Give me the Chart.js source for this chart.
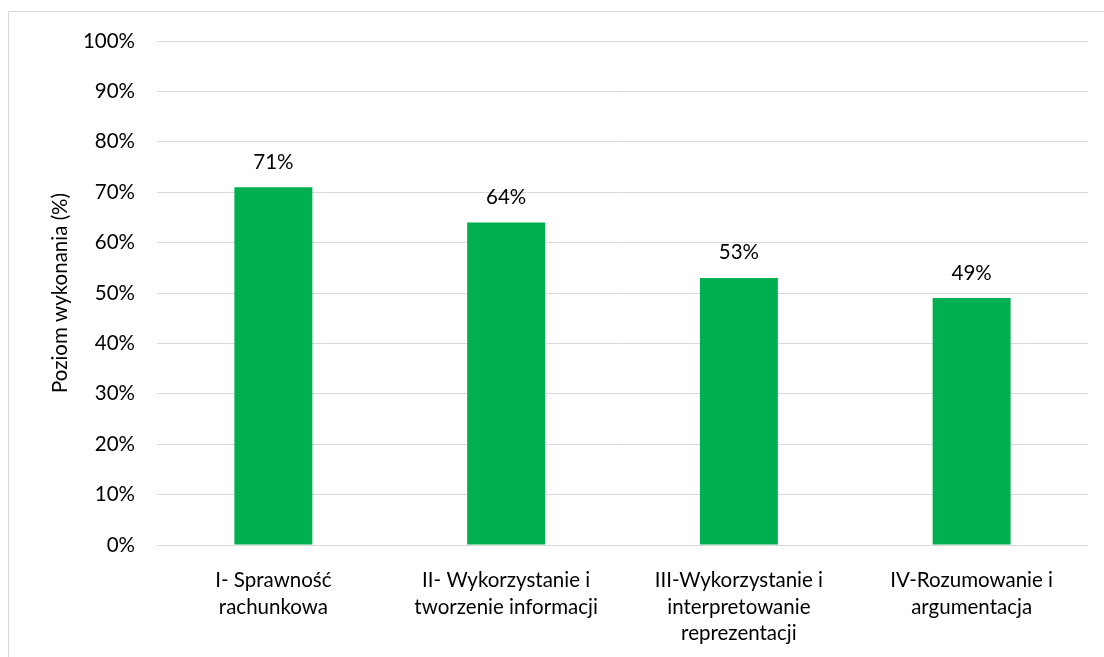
<!DOCTYPE html>
<html>
<head>
<meta charset="utf-8">
<script src="https://cdn.jsdelivr.net/npm/chart.js@4.4.1/dist/chart.umd.min.js"></script>
<style>
  html, body { margin: 0; padding: 0; background: #fff; overflow: hidden; }
  #frame { position: absolute; left: 8px; top: 11px; width: 1200px; height: 700px;
           border: 1px solid #d9d9d9; box-sizing: border-box; }
  #wrap { position: absolute; left: 0; top: 0; width: 1104px; height: 657px; }
</style>
</head>
<body>
<div id="frame"></div>
<div id="wrap"><canvas id="chart" width="1104" height="657"></canvas></div>
<script>
// Obszary umiejętności i poziom ich wykonania (%)
const categories = [
  ['I- Sprawność', 'rachunkowa'],
  ['II- Wykorzystanie i', 'tworzenie informacji'],
  ['III-Wykorzystanie i', 'interpretowanie', 'reprezentacji'],
  ['IV-Rozumowanie i', 'argumentacja']
];
const values = [71, 64, 53, 49];
const yTicks = [0, 10, 20, 30, 40, 50, 60, 70, 80, 90, 100];

const FONT = 'Lato, "Open Sans", sans-serif';
const FSIZE = 20.5;

// Etykiety wartości nad słupkami
const valueLabels = {
  id: 'valueLabels',
  afterDatasetsDraw(chart) {
    const ctx = chart.ctx;
    const meta = chart.getDatasetMeta(0);
    ctx.save();
    ctx.font = FSIZE + 'px ' + FONT;
    ctx.fillStyle = '#000';
    ctx.textAlign = 'center';
    ctx.textBaseline = 'middle';
    meta.data.forEach((bar, i) => {
      ctx.fillText(values[i] + '%', bar.x, bar.y - 25);
    });
    ctx.restore();
  }
};

new Chart(document.getElementById('chart'), {
  type: 'bar',
  data: {
    labels: categories,
    datasets: [{
      data: values,
      backgroundColor: '#00b050',
      borderWidth: 0,
      categoryPercentage: 1,
      barPercentage: 0.335
    }]
  },
  options: {
    responsive: false,
    animation: false,
    devicePixelRatio: 1,
    layout: { padding: { top: 41, right: 16, left: 0, bottom: 0 } },
    plugins: { legend: { display: false }, tooltip: { enabled: false } },
    scales: {
      x: {
        grid: { display: false, drawTicks: false },
        border: { display: false },
        ticks: {
          color: '#000',
          font: { family: FONT, size: FSIZE, lineHeight: 1.3 },
          padding: 22,
          maxRotation: 0,
          autoSkip: false
        },
        afterFit(scale) { scale.height = 112; }
      },
      y: {
        min: 0,
        max: 100,
        afterBuildTicks(scale) { scale.ticks = yTicks.map(v => ({ value: v })); },
        grid: { color: '#d9d9d9', lineWidth: 1, drawTicks: false },
        border: { display: false },
        ticks: {
          color: '#000',
          font: { family: FONT, size: FSIZE },
          padding: 22,
          callback: v => v + '%'
        },
        title: {
          display: true,
          text: 'Poziom wykonania (%)',
          color: '#000',
          font: { family: FONT, size: FSIZE, lineHeight: 1.2 },
          padding: { top: 48, bottom: 0 }
        },
        afterFit(scale) { scale.width = 157; }
      }
    }
  },
  plugins: [valueLabels]
});
</script>
</body>
</html>
